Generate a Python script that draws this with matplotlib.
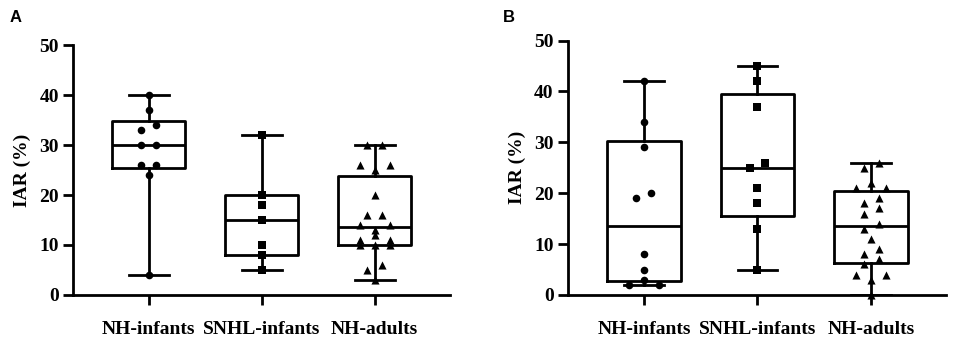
import numpy as np
import matplotlib
matplotlib.use("Agg")
import matplotlib.pyplot as plt

plt.rcParams["font.family"] = "Liberation Serif"

groups = ["NH-infants", "SNHL-infants", "NH-adults"]
markers = ["o", "s", "^"]

# IAR (%) per subject
a_nh_inf = [40, 37, 34, 33, 30, 30, 26, 26, 24, 4]
a_snhl_inf = [32, 20, 18, 15, 10, 8, 5]
a_nh_adu = [30, 30, 26, 26, 25, 20, 16, 16, 14, 14, 13, 12, 11, 11, 10, 10, 10, 6, 5, 3]

b_nh_inf = [42, 34, 29, 20, 19, 8, 5, 3, 2, 2]
b_snhl_inf = [45, 42, 37, 26, 25, 21, 18, 13, 5]
b_nh_adu = [26, 25, 22, 21, 21, 19, 18, 17, 16, 14, 13, 11, 9, 8, 7, 6, 4, 4, 3, 0]


def box_stats(v):
    q1, med, q3 = np.percentile(v, [25, 50, 75], method="weibull")  # Prism-style quartiles
    return dict(med=med, q1=q1, q3=q3, whislo=min(v), whishi=max(v), fliers=[])


def spread(vals, step, tol=1):
    # scatter-dot layout: values within `tol` share a row, row centred on the group,
    # tied values pushed to the outside
    vals = sorted(vals, reverse=True)
    xs, ys, i = [], [], 0
    while i < len(vals):
        j = i
        while j < len(vals) and vals[i] - vals[j] <= tol:
            j += 1
        row = vals[i:j]
        n = len(row)
        offs = sorted((np.arange(n) - (n - 1) / 2) * step, key=lambda o: (-abs(o), o))
        row = sorted(row, key=lambda v: (-row.count(v), v))
        xs += list(offs)
        ys += row
        i = j
    return np.array(xs), np.array(ys)


fig = plt.figure(figsize=(9.57, 3.47), dpi=100)
axA = fig.add_axes([0.076, 0.150, 0.394, 0.720])
axB = fig.add_axes([0.593, 0.150, 0.396, 0.733])

for ax, data, letter, lx in [(axA, [a_nh_inf, a_snhl_inf, a_nh_adu], "A", 0.010),
                             (axB, [b_nh_inf, b_snhl_inf, b_nh_adu], "B", 0.525)]:
    ax.set_xlim(-0.673, 2.664)
    ax.set_ylim(0, 50)
    step = 15 / (ax.bbox.width / (2.664 + 0.673))  # ~15 px between dot columns
    lw = 2.0
    ax.bxp([box_stats(v) for v in data], positions=[0, 1, 2], widths=0.65, capwidths=0.35,
           showfliers=False, manage_ticks=False,
           boxprops=dict(color="black", lw=lw), whiskerprops=dict(color="black", lw=lw),
           capprops=dict(color="black", lw=lw), medianprops=dict(color="black", lw=lw))
    for k, (v, m) in enumerate(zip(data, markers)):
        dx, y = spread(v, step)
        ax.scatter(k + dx, y, marker=m, s=34 if m == "^" else 30, c="black", lw=0,
                   zorder=3, clip_on=False)
    ax.spines[["top", "right"]].set_visible(False)
    ax.spines[["left", "bottom"]].set_linewidth(2.0)
    ax.set_yticks(range(0, 51, 10))
    ax.set_xticks([0, 1, 2])
    ax.set_xticklabels(groups)
    ax.tick_params(axis="both", direction="out", length=7, width=2, labelsize=14)
    ax.tick_params(axis="y", pad=3)
    ax.tick_params(axis="x", pad=12)
    for t in ax.get_xticklabels() + ax.get_yticklabels():
        t.set_fontweight("bold")
    ax.set_ylabel("IAR (%)", fontsize=14, fontweight="bold", labelpad=6)
    fig.text(lx, 0.950, letter, fontsize=12, fontweight="bold", family="Liberation Sans",
             va="center", ha="left")

fig.savefig("out.png", dpi=100)
